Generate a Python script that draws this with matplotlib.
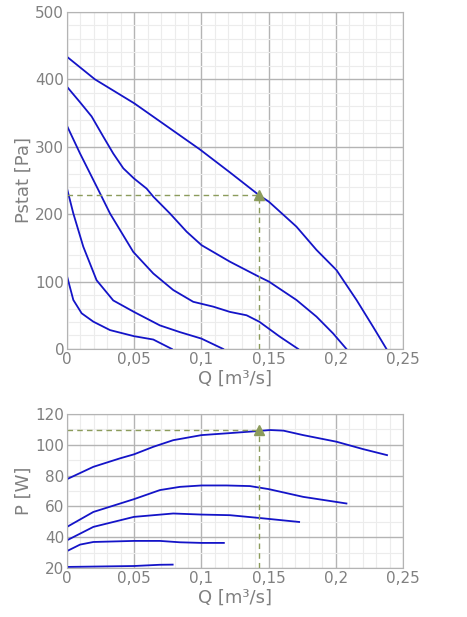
import numpy as np
import matplotlib
matplotlib.use("Agg")
import matplotlib.pyplot as plt
from matplotlib.ticker import MultipleLocator, FuncFormatter

# static pressure curves (Q in m3/s, Pstat in Pa)
q_p1 = [0, 0.0208, 0.05, 0.0989, 0.1212, 0.143, 0.1502, 0.1707, 0.1856, 0.2005, 0.2154, 0.2277, 0.2377]
p_p1 = [433.5, 400, 364.5, 296, 262, 228, 218.5, 181.5, 147, 117, 72.7, 33, 0]
q_p2 = [0, 0.0097, 0.0183, 0.027, 0.0344, 0.0419, 0.0498, 0.0592, 0.0642, 0.0766, 0.089,
        0.1001, 0.1113, 0.1212, 0.143, 0.1502, 0.1707, 0.1856, 0.198, 0.2079]
p_p2 = [389, 366, 345, 315, 290, 268, 253, 238, 226, 201, 174,
        154, 141, 129.5, 107, 100, 72.7, 48, 23, 0]
q_p3 = [0, 0.0097, 0.0196, 0.0233, 0.032, 0.0493, 0.0642, 0.079, 0.0939, 0.1088, 0.1212,
        0.1336, 0.143, 0.1583, 0.172]
p_p3 = [331, 290, 250.7, 236, 201, 144, 112, 87.5, 70, 62.8, 55,
        50, 40.5, 18.3, 0]
q_p4 = [0, 0.0047, 0.0121, 0.022, 0.0344, 0.0498, 0.0691, 0.084, 0.1, 0.1162]
p_p4 = [238, 201, 151.8, 102, 72, 55, 35, 25, 15.4, 0]
q_p5 = [0, 0.0047, 0.0109, 0.0196, 0.032, 0.0498, 0.0642, 0.0780]
p_p5 = [108, 72.7, 52.9, 40.5, 28, 19, 14, 0]

# power curves (Q in m3/s, P in W)
q_w1 = [0, 0.0196, 0.0394, 0.0498, 0.0642, 0.079, 0.1001, 0.1212, 0.143, 0.151, 0.161,
        0.1757, 0.2005, 0.2203, 0.2381]
w_w1 = [77.7, 85.7, 91.2, 93.8, 98.7, 103, 106.3, 107.6, 109, 109.6, 109.2,
        106.3, 102, 97.2, 93.3]
q_w2 = [0, 0.0196, 0.0498, 0.0691, 0.084, 0.1001, 0.1187, 0.1361, 0.1502, 0.1757, 0.2079]
w_w2 = [46.7, 56.4, 64.7, 70.6, 72.7, 73.6, 73.6, 73.2, 71.2, 66.2, 61.9]
q_w3 = [0, 0.0196, 0.0498, 0.079, 0.1001, 0.1212, 0.143, 0.1727]
w_w3 = [38, 46.7, 53.2, 55.4, 54.7, 54.3, 52.5, 49.9]
q_w4 = [0, 0.0097, 0.0196, 0.0498, 0.0691, 0.084, 0.1, 0.1167]
w_w4 = [31, 35.2, 36.9, 37.6, 37.6, 36.7, 36.3, 36.3]
q_w5 = [0, 0.0498, 0.069, 0.0786]
w_w5 = [20.7, 21.3, 22.1, 22.2]

# operating point
q_op = 0.143
p_op = 228
w_op = 109.5

line_col = "#1414c8"
txt_col = "#808080"
op_col = "#8c9c5c"

fig = plt.figure(figsize=(4.67, 6.17), dpi=100)
ax1 = fig.add_axes([0.1435, 0.4344, 0.7195, 0.5462])
ax2 = fig.add_axes([0.1435, 0.0794, 0.7195, 0.2496])

fmt = FuncFormatter(lambda v, pos: ("%g" % round(v, 4)).replace(".", ","))


def style(ax, ymaj, ymin):
    ax.set_xlim(0, 0.25)
    ax.xaxis.set_major_locator(MultipleLocator(0.05))
    ax.xaxis.set_minor_locator(MultipleLocator(0.01))
    ax.yaxis.set_major_locator(MultipleLocator(ymaj))
    ax.yaxis.set_minor_locator(MultipleLocator(ymin))
    ax.xaxis.set_major_formatter(fmt)
    ax.grid(which="major", color="#b4b4b4", linewidth=1.0)
    ax.grid(which="minor", color="#ececec", linewidth=0.8)
    ax.set_axisbelow(True)
    for s in ax.spines.values():
        s.set_color("#b4b4b4")
    ax.tick_params(which="both", length=0, labelsize=11, labelcolor=txt_col, pad=2)
    ax.set_xlabel("Q [m³/s]", fontsize=13, color=txt_col, labelpad=2)


style(ax1, 100, 20)
ax1.set_ylim(0, 500)
ax1.set_ylabel("Pstat [Pa]", fontsize=13, color=txt_col, labelpad=2)
for q, p in [(q_p1, p_p1), (q_p2, p_p2), (q_p3, p_p3), (q_p4, p_p4), (q_p5, p_p5)]:
    ax1.plot(q, p, color=line_col, linewidth=1.3, solid_joinstyle="round")
ax1.plot([0, q_op], [p_op, p_op], color=op_col, linestyle=(0, (4, 3)), linewidth=1)
ax1.plot([q_op, q_op], [0, p_op], color=op_col, linestyle=(0, (4, 3)), linewidth=1)
ax1.plot(q_op, p_op, marker="^", color=op_col, markersize=7, zorder=5)

style(ax2, 20, 10)
ax2.set_ylim(20, 120)
ax2.set_ylabel("P [W]", fontsize=13, color=txt_col, labelpad=2)
for q, w in [(q_w1, w_w1), (q_w2, w_w2), (q_w3, w_w3), (q_w4, w_w4), (q_w5, w_w5)]:
    ax2.plot(q, w, color=line_col, linewidth=1.3, solid_joinstyle="round")
ax2.plot([0, q_op], [w_op, w_op], color=op_col, linestyle=(0, (4, 3)), linewidth=1)
ax2.plot([q_op, q_op], [20, w_op], color=op_col, linestyle=(0, (4, 3)), linewidth=1)
ax2.plot(q_op, w_op, marker="^", color=op_col, markersize=7, zorder=5)

fig.savefig("out.png", dpi=100)
